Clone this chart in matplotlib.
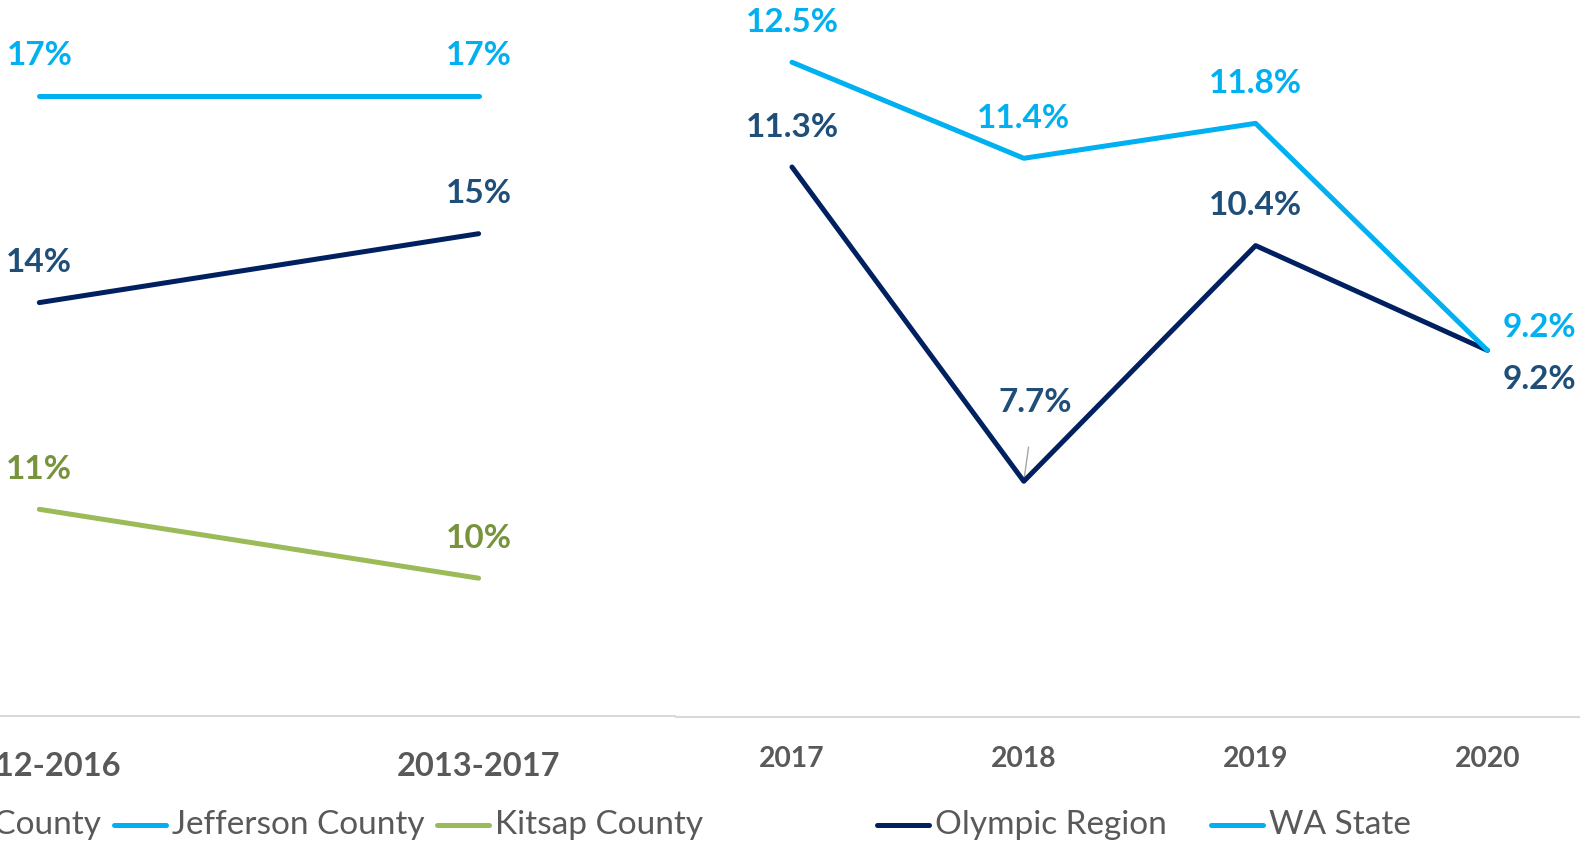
import matplotlib
matplotlib.use("Agg")
import matplotlib.pyplot as plt
from matplotlib.lines import Line2D
from matplotlib.patches import Polygon
import numpy as np

plt.rcParams['font.family'] = ['Lato', 'DejaVu Sans']

# county rates, two 5-year windows
county_periods = ["2012-2016", "2013-2017"]
clallam = [14, 15]
jefferson = [17, 17]
kitsap = [11, 10]

# region vs state, single years
years = ["2017", "2018", "2019", "2020"]
olympic = [11.3, 7.7, 10.4, 9.2]
wa_state = [12.5, 11.4, 11.8, 9.2]

NAVY = "#002060"
NAVY_LBL = "#1F4E79"
SKY = "#00B0F0"
GREEN = "#9BBB59"
GREEN_LBL = "#77933C"
GREY_TXT = "#595959"
AXIS_GREY = "#D9D9D9"
TEAL_BG = "#DDF0EF"

LBL_SIZE = 24
LEG_SIZE = 24

W, H = 1580, 842
fig = plt.figure(figsize=(W / 100, H / 100), dpi=100)


def px_axes(x0, x1, y_top, y_bot):
    # axes placed by pixel box (y measured from top)
    return fig.add_axes([x0 / W, 1 - y_bot / H, (x1 - x0) / W, (y_bot - y_top) / H])


def style(ax):
    for s in ("top", "right", "left"):
        ax.spines[s].set_visible(False)
    ax.spines["bottom"].set_color(AXIS_GREY)
    ax.spines["bottom"].set_linewidth(1.5)
    ax.set_yticks([])
    ax.tick_params(axis="x", length=0)


def label(ax, x, y, text, color, dx=0, dy=40):
    ax.annotate(text, (x, y), xytext=(dx, dy), textcoords="offset pixels",
                ha="center", va="center", fontsize=LBL_SIZE, fontweight="bold",
                color=color, annotation_clip=False)


# left chart: counties
axl = px_axes(0, 697, 0, 716)
style(axl)
xs = np.arange(len(county_periods))
axl.set_xlim(-39.3 / 439.3, (697 - 39.3) / 439.3)
axl.set_ylim(8, 8 + 716 / 68.9)
for vals, c, lc in [(jefferson, SKY, SKY), (clallam, NAVY, NAVY_LBL), (kitsap, GREEN, GREEN_LBL)]:
    axl.plot(xs, vals, color=c, lw=3.6, solid_capstyle="round", clip_on=False)
    for x, v in zip(xs, vals):
        label(axl, x, v, f"{v}%", lc)
axl.set_xticks(xs, county_periods)
axl.tick_params(axis="x", pad=26, labelsize=23.5, labelcolor=GREY_TXT)
for t in axl.get_xticklabels():
    t.set_fontweight("bold")

# right chart: region vs state
axr = px_axes(676, W, 0, 717)
style(axr)
xr = np.arange(len(years))
axr.set_xlim((676 - 792) / 231.8, (W - 792) / 231.8)
axr.set_ylim(5, 5 + 717 / 87.3)
axr.plot(xr, olympic, color=NAVY, lw=3.6, solid_capstyle="round", clip_on=False, zorder=3)
axr.plot(xr, wa_state, color=SKY, lw=3.6, solid_capstyle="round", clip_on=False, zorder=3)

for i, v in enumerate(wa_state):
    if i == 3:
        label(axr, i, v, f"{v}%", SKY, dx=52, dy=23)
    else:
        label(axr, i, v, f"{v}%", SKY)
for i, v in enumerate(olympic):
    if i == 3:
        label(axr, i, v, f"{v}%", NAVY_LBL, dx=52, dy=-29)
    elif i == 1:
        axr.annotate(f"{v}%", (i, v), xytext=(11, 79), textcoords="offset pixels",
                     ha="center", va="center", fontsize=LBL_SIZE, fontweight="bold",
                     color=NAVY_LBL, zorder=2,
                     arrowprops=dict(arrowstyle="-", color="#A6A6A6", lw=1,
                                     shrinkA=20, shrinkB=3))
    else:
        label(axr, i, v, f"{v}%", NAVY_LBL)
axr.set_xticks(xr, years)
axr.tick_params(axis="x", pad=21, labelsize=20.3, labelcolor=GREY_TXT)
for t in axr.get_xticklabels():
    t.set_fontweight("bold")


# legends, laid out in pixels
def fx(x):
    return x / W


def fy(y):
    return 1 - y / H


def legend_item(x_line, x_text, y, color, text):
    fig.add_artist(Line2D([fx(x_line), fx(x_line + 52)], [fy(y), fy(y)],
                          color=color, lw=3.6, solid_capstyle="round"))
    fig.text(fx(x_text), fy(y), text, ha="left", va="center",
             fontsize=LEG_SIZE, color=GREY_TXT)


ly = 825
fig.text(fx(101), fy(ly), "Clallam County", ha="right", va="center",
         fontsize=LEG_SIZE, color=GREY_TXT)
legend_item(114, 172, ly, SKY, "Jefferson County")
legend_item(437, 495, ly, GREEN, "Kitsap County")
legend_item(877, 935, ly, NAVY, "Olympic Region")
legend_item(1211, 1269, ly, SKY, "WA State")

# background slide shapes
t = np.linspace(0, np.pi / 2, 40)
arc_x = 1430 + 163 * np.sin(t)
arc_y = -80 + 125 * np.cos(t)
pts = [(1235, 0), (1235, 45)] + list(zip(arc_x, arc_y)) + [(W, 0)]
fig.add_artist(Polygon([(fx(x), fy(y)) for x, y in pts], closed=True,
                       facecolor=TEAL_BG, edgecolor="none", zorder=0))
fig.add_artist(Polygon([(fx(1580), fy(656)), (fx(1574), fy(667)), (fx(1580), fy(678))],
                       closed=True, facecolor=TEAL_BG, edgecolor="none", zorder=0))

fig.savefig("out.png", dpi=100)
